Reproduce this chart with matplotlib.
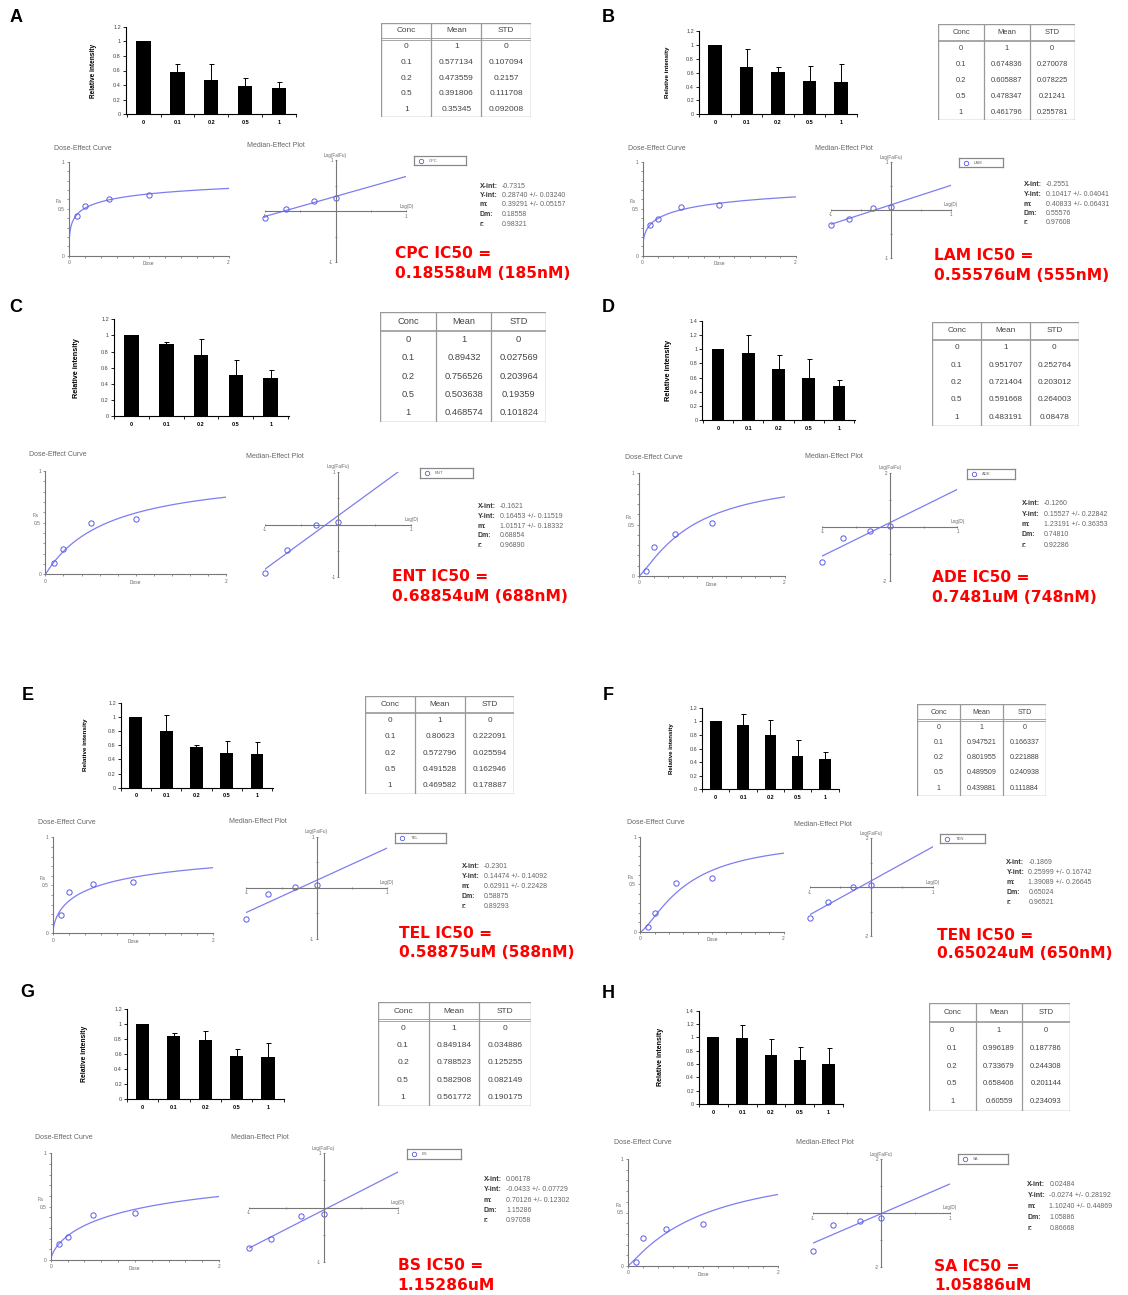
import numpy as np
import matplotlib
matplotlib.use("Agg")
import matplotlib.pyplot as plt

W, H = 1128, 1295

panels = ["A", "B", "C", "D", "E", "F", "G", "H"]
drugs = ["CPC", "LAM", "ENT", "ADE", "TEL", "TEN", "BS", "SA"]
ic50_text = ["0.18558uM (185nM)", "0.55576uM (555nM)", "0.68854uM (688nM)", "0.7481uM (748nM)",
             "0.58875uM (588nM)", "0.65024uM (650nM)", "1.15286uM", "1.05886uM"]

conc = ["0", "0.1", "0.2", "0.5", "1"]

means = {
    "A": ["1", "0.577134", "0.473559", "0.391806", "0.35345"],
    "B": ["1", "0.674836", "0.605887", "0.478347", "0.461796"],
    "C": ["1", "0.89432", "0.756526", "0.503638", "0.468574"],
    "D": ["1", "0.951707", "0.721404", "0.591668", "0.483191"],
    "E": ["1", "0.80623", "0.572796", "0.491528", "0.469582"],
    "F": ["1", "0.947521", "0.801955", "0.489509", "0.439881"],
    "G": ["1", "0.849184", "0.788523", "0.582908", "0.561772"],
    "H": ["1", "0.996189", "0.733679", "0.658406", "0.60559"],
}
stds = {
    "A": ["0", "0.107094", "0.2157", "0.111708", "0.092008"],
    "B": ["0", "0.270078", "0.078225", "0.21241", "0.255781"],
    "C": ["0", "0.027569", "0.203964", "0.19359", "0.101824"],
    "D": ["0", "0.252764", "0.203012", "0.264003", "0.08478"],
    "E": ["0", "0.222091", "0.025594", "0.162946", "0.178887"],
    "F": ["0", "0.166337", "0.221888", "0.240938", "0.111884"],
    "G": ["0", "0.034886", "0.125255", "0.082149", "0.190175"],
    "H": ["0", "0.187786", "0.244308", "0.201144", "0.234093"],
}

# CompuSyn fit results
x_int = ["-0.7315", "-0.2551", "-0.1621", "-0.1260", "-0.2301", "-0.1869", "0.06178", "0.02484"]
y_int = ["0.28740", "0.10417", "0.16453", "0.15527", "0.14474", "0.25999", "-0.0433", "-0.0274"]
y_int_err = ["0.03240", "0.04041", "0.11519", "0.22842", "0.14092", "0.16742", "0.07729", "0.28192"]
m_vals = ["0.39291", "0.40833", "1.01517", "1.23191", "0.62911", "1.39089", "0.70126", "1.10240"]
m_err = ["0.05157", "0.06431", "0.18332", "0.36353", "0.22428", "0.26645", "0.12302", "0.44869"]
dm_vals = ["0.18558", "0.55576", "0.68854", "0.74810", "0.58875", "0.65024", "1.15286", "1.05886"]
r_vals = ["0.98321", "0.97608", "0.96890", "0.92286", "0.89293", "0.96521", "0.97058", "0.86668"]

bar_top = [1.2, 1.2, 1.2, 1.4, 1.2, 1.2, 1.2, 1.4]
med_lim = [1, 1, 1, 2, 1, 2, 1, 2]
fa_H_first = 0.037  # H lowest dose point

# pixel layout of each panel
L = {
    "A": dict(label=(16, 17), bar=(125.7, 26.7, 296.4, 114.3), c=(143.6, 279), ylab=93.6,
              table=(381, 22.7, 531, 117), hdr=39, cols=(431.4, 481.4), dtitle=(53.6, 148),
              dose=(69, 162, 228.6, 255.7), mtitle=(247, 145.7), med=(264.6, 160, 406.4, 262.3),
              leg=(414, 156, 466, 165), stats=(480, 186, 224), red=(395, 254, 273)),
    "B": dict(label=(608, 17), bar=(698.8, 31, 857, 114.3), c=(715, 841), ylab=667,
              table=(938, 24, 1075, 120), hdr=40.7, cols=(984, 1029.6), dtitle=(628, 148),
              dose=(642.6, 162, 795.5, 255.7), mtitle=(815, 148), med=(830.6, 162, 951, 257.7),
              leg=(959, 158, 1002.7, 167), stats=(1023.8, 185, 223), red=(934, 256, 275)),
    "C": dict(label=(16, 308), bar=(113.6, 319.3, 288.6, 416), c=(131.4, 270.7), ylab=76.8,
              table=(380, 311.7, 546, 421.7), hdr=330.7, cols=(436.4, 491.4), dtitle=(28.6, 455),
              dose=(45.4, 471, 226, 574.3), mtitle=(246.4, 456.7), med=(264.6, 471.7, 411.4, 577.3),
              leg=(420, 467.7, 473, 477.7), stats=(478, 506.7, 545.7), red=(392, 577, 596)),
    "D": dict(label=(608, 308), bar=(702.4, 321, 855.3, 420), c=(718, 839), ylab=668,
              table=(932, 321.7, 1078.8, 426), hdr=339.3, cols=(981.4, 1030), dtitle=(625, 457.7),
              dose=(639, 473.3, 784.6, 576), mtitle=(805.3, 457), med=(822.3, 472.7, 957.5, 581),
              leg=(966.5, 469, 1015.4, 479), stats=(1022, 503.7, 545.3), red=(932, 578, 597.3)),
    "E": dict(label=(27.5, 696), bar=(120.7, 702.7, 273, 787.7), c=(135.7, 257), ylab=85.7,
              table=(365, 695.7, 514, 794), hdr=712.3, cols=(415, 465), dtitle=(37.5, 822.7),
              dose=(52.9, 837.3, 212.9, 933.3), mtitle=(229, 821.7), med=(246.4, 836.7, 386.8, 938.7),
              leg=(395.4, 832.7, 445.7, 842.7), stats=(461.8, 866.7, 906.3), red=(399.3, 933.3, 952.7)),
    "F": dict(label=(608, 696), bar=(702, 707.7, 839, 789.3), c=(715.8, 824.9), ylab=671.6,
              table=(916.9, 704.3, 1046, 795.7), hdr=720, cols=(960.4, 1003), dtitle=(627, 822.7),
              dose=(640.4, 836.7, 783.6, 931.7), mtitle=(794.4, 824), med=(809.6, 838.3, 932.8, 936),
              leg=(940.4, 834.3, 984.6, 843.3), stats=(1006.4, 862.3, 902), red=(936.8, 935, 954)),
    "G": dict(label=(26.8, 992.7), bar=(126.8, 1009.3, 284, 1099.3), c=(142, 267.9), ylab=85,
              table=(377.5, 1002.3, 531, 1106), hdr=1020, cols=(428.6, 479.3), dtitle=(34.6, 1137.3),
              dose=(50.7, 1153.3, 219, 1260), mtitle=(231, 1137.3), med=(249, 1153.3, 398.2, 1262),
              leg=(407, 1149, 460.7, 1159), stats=(484, 1179.3, 1220.7), red=(397.5, 1266, 1285)),
    "H": dict(label=(608, 993.3), bar=(698.8, 1010.7, 843.3, 1104), c=(713.3, 828.5), ylab=660.7,
              table=(928.8, 1003.3, 1069.8, 1110.7), hdr=1021.3, cols=(975.6, 1022.3), dtitle=(613.6, 1142.7),
              dose=(628, 1159, 778, 1266), mtitle=(795.5, 1142.7), med=(812.5, 1159.3, 949.5, 1266.7),
              leg=(957.8, 1154.3, 1007.5, 1164.3), stats=(1027.4, 1184.3, 1228.7), red=(934, 1266.7, 1285)),
}

plt.rcParams["font.family"] = ["Liberation Sans", "DejaVu Sans"]
fig = plt.figure(figsize=(W / 100, H / 100), dpi=100)
fig.patch.set_facecolor("white")

LINE_C = "#7d7df2"
MARK_C = "#5a5ae6"
GREY = "#666666"


def px_axes(x0, y0, x1, y1):
    return fig.add_axes([x0 / W, 1 - y1 / H, (x1 - x0) / W, (y1 - y0) / H])


def ftext(x, y, s, **kw):
    fig.text(x / W, 1 - y / H, s, **kw)


for i, p in enumerate(panels):
    lay = L[p]
    mean = np.array([float(v) for v in means[p]])
    std = np.array([float(v) for v in stds[p]])
    dm = float(dm_vals[i])
    m = float(m_vals[i])
    doses = np.array([float(c) for c in conc[1:]])
    fa = 1 - mean[1:]
    if p == "H":
        fa[0] = fa_H_first

    # panel letter
    ftext(lay["label"][0], lay["label"][1], p, fontsize=13, fontweight="bold",
          ha="center", va="center")

    # bar chart
    x0, y0, x1, y1 = lay["bar"]
    c0, c4 = lay["c"]
    sp = (c4 - c0) / 4
    ax = px_axes(x0, y0, x1, y1)
    xs = np.arange(5)
    ax.bar(xs, mean, width=0.42, color="black")
    ax.errorbar(xs, mean, yerr=[np.zeros(5), std], fmt="none", ecolor="black",
                elinewidth=0.7, capsize=1.8, capthick=0.7)
    ax.set_xlim((x0 - c0) / sp, (x1 - c0) / sp)
    ax.set_ylim(0, bar_top[i])
    yt = np.round(np.arange(0, bar_top[i] + 0.01, 0.2), 1)
    ax.set_yticks(yt)
    ax.set_yticklabels(["%g" % v for v in yt], fontsize=4, color="#444")
    ax.set_xticks(xs)
    ax.set_xticklabels(conc, fontsize=4, fontweight="bold")
    ax.set_xticks(np.arange(-0.5, 5, 1), minor=True)
    ax.tick_params(axis="x", which="major", length=0, pad=4)
    ax.tick_params(axis="x", which="minor", length=2, width=0.6)
    ax.tick_params(axis="y", length=2, width=0.6, pad=1.5)
    for s in ["top", "right"]:
        ax.spines[s].set_visible(False)
    for s in ["left", "bottom"]:
        ax.spines[s].set_linewidth(0.8)
    ftext(lay["ylab"], (y0 + y1) / 2, "Relative intensity", rotation=90, fontweight="bold",
          fontsize=(y1 - y0) * 0.054, ha="center", va="center")

    # table
    tx0, ty0, tx1, ty1 = lay["table"]
    tax = px_axes(tx0, ty0, tx1, ty1)
    tw, th = tx1 - tx0, ty1 - ty0
    tax.set_xlim(0, tw)
    tax.set_ylim(th, 0)
    tax.axis("off")
    tax.add_patch(plt.Rectangle((0, 0), tw, th, fill=False, ec="#999999", lw=1.0))
    cl = [0, lay["cols"][0] - tx0, lay["cols"][1] - tx0, tw]
    for cx in cl[1:3]:
        tax.plot([cx, cx], [0, th], color="#999999", lw=0.9)
    hb = lay["hdr"] - ty0
    tax.plot([0, tw], [hb - 0.7, hb - 0.7], color="#999999", lw=0.6)
    tax.plot([0, tw], [hb + 0.7, hb + 0.7], color="#999999", lw=0.6)
    fs = (cl[1] - cl[0]) * 0.118
    heads = ["Conc", "Mean", "STD"]
    cols_txt = [conc, means[p], stds[p]]
    rh = (th - hb) / 5
    for k in range(3):
        cx = (cl[k] + cl[k + 1]) / 2
        tax.text(cx, hb / 2, heads[k], ha="center", va="center", fontsize=fs, color="#444")
        for r in range(5):
            tax.text(cx, hb + rh * (r + 0.5), cols_txt[k][r], ha="center", va="center",
                     fontsize=fs, color="#444")

    # dose-effect curve
    ftext(lay["dtitle"][0], lay["dtitle"][1], "Dose-Effect Curve", fontsize=5, color=GREY,
          ha="left", va="center")
    dx0, dy0, dx1, dy1 = lay["dose"]
    dax = px_axes(dx0, dy0, dx1, dy1)
    dd = np.linspace(0.005, 2, 400)
    dax.plot(dd, 1 / (1 + (dm / dd) ** m), color=LINE_C, lw=0.9)
    dax.plot(doses, fa, "o", mfc="none", mec=MARK_C, ms=3.8, mew=0.7)
    dax.set_xlim(0, 2)
    dax.set_ylim(0, 1)
    dax.set_xticks([0, 2])
    dax.set_xticklabels(["0", "2"], fontsize=3.5, color=GREY)
    dax.set_yticks([0, 0.5, 1])
    dax.set_yticklabels(["0", "0.5", "1"], fontsize=3.5, color=GREY)
    dax.set_xticks(np.arange(0, 2.01, 0.2), minor=True)
    dax.set_yticks(np.arange(0, 1.01, 0.1), minor=True)
    dax.tick_params(which="both", length=1.6, width=0.5, color=GREY, pad=1.5)
    for s in ["top", "right"]:
        dax.spines[s].set_visible(False)
    for s in ["left", "bottom"]:
        dax.spines[s].set_linewidth(0.8)
        dax.spines[s].set_color("#777")
    dax.set_facecolor("none")
    ftext(dx0 - 10, dy1 - (dy1 - dy0) * 0.5 - 7, "Fa", fontsize=3.5, color=GREY, ha="center", va="center")
    ftext((dx0 + dx1) / 2, dy1 + 8, "Dose", fontsize=3.5, color=GREY, ha="center", va="center")

    # median-effect plot
    ftext(lay["mtitle"][0], lay["mtitle"][1], "Median-Effect Plot", fontsize=5, color=GREY,
          ha="left", va="center")
    mx0, my0, mx1, my1 = lay["med"]
    lim = med_lim[i]
    max_ = px_axes(mx0, my0, mx1, my1)
    max_.set_facecolor("none")
    lx = np.array([-1.0, 1.0])
    max_.plot(lx, m * (lx - np.log10(dm)), color=LINE_C, lw=0.9)
    max_.plot(np.log10(doses), np.log10(fa / (1 - fa)), "o", mfc="none", mec=MARK_C,
              ms=3.8, mew=0.7, clip_on=False)
    max_.set_xlim(-1, 1)
    max_.set_ylim(-lim, lim)
    max_.spines["left"].set_position("zero")
    max_.spines["bottom"].set_position("zero")
    for s in ["top", "right"]:
        max_.spines[s].set_visible(False)
    for s in ["left", "bottom"]:
        max_.spines[s].set_linewidth(0.8)
        max_.spines[s].set_color("#777")
    max_.set_xticks([-1, -0.5, 0, 0.5, 1])
    max_.set_xticklabels(["-1", "", "", "", "1"], fontsize=3.3, color=GREY)
    yt = np.linspace(-lim, lim, 5)
    max_.set_yticks(yt)
    max_.set_yticklabels(["-%d" % lim, "", "", "", "%d" % lim], fontsize=3.3, color=GREY)
    max_.tick_params(length=1.6, width=0.5, color=GREY, direction="inout", pad=1)
    ftext((mx0 + mx1) / 2, my0 - 5, "Log(Fa/Fu)", fontsize=3.3, color=GREY, ha="center", va="center")
    ftext(mx1, (my0 + my1) / 2 - 5, "Log(D)", fontsize=3.3, color=GREY, ha="center", va="center")

    # legend box
    gx0, gy0, gx1, gy1 = lay["leg"]
    gax = px_axes(gx0, gy0, gx1, gy1)
    gax.set_xlim(0, gx1 - gx0)
    gax.set_ylim(gy1 - gy0, 0)
    gax.set_xticks([])
    gax.set_yticks([])
    for s in gax.spines.values():
        s.set_color("#888")
        s.set_linewidth(0.9)
    gax.plot([7], [(gy1 - gy0) / 2], "o", mfc="none", mec=MARK_C, ms=3.2, mew=0.6)
    gax.text(15, (gy1 - gy0) / 2, drugs[i], fontsize=3, color=GREY, va="center", ha="left")

    # fit statistics
    sx, sy0, sy1 = lay["stats"]
    labels = ["X-int:", "Y-int:", "m:", "Dm:", "r:"]
    vals = [x_int[i], y_int[i] + " +/- " + y_int_err[i], m_vals[i] + " +/- " + m_err[i],
            dm_vals[i], r_vals[i]]
    for k in range(5):
        yy = sy0 + (sy1 - sy0) * k / 4
        ftext(sx, yy, labels[k], fontsize=5.0, fontweight="bold", color="#333", ha="left", va="center")
        ftext(sx + 22, yy, vals[k], fontsize=5.0, color="#666", ha="left", va="center")

    # IC50 text
    rx, ry1, ry2 = lay["red"]
    ftext(rx, ry1, drugs[i] + " IC50 =", fontsize=11.2, fontweight="bold", color="red",
          family="DejaVu Sans", ha="left", va="center")
    ftext(rx, ry2, ic50_text[i], fontsize=11.2, fontweight="bold", color="red",
          family="DejaVu Sans", ha="left", va="center")

fig.savefig("out.png", dpi=100, facecolor="white")
